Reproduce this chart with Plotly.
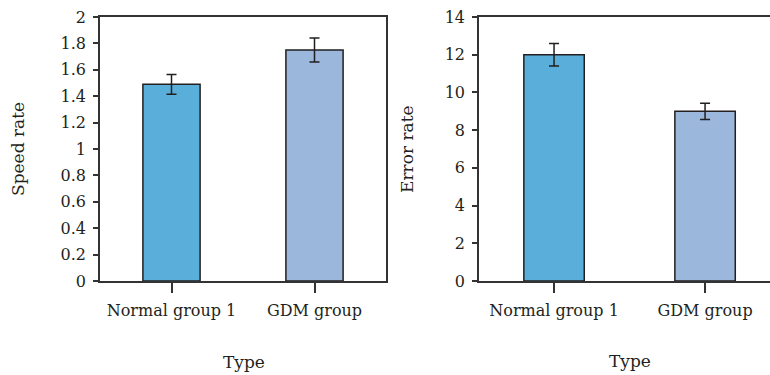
import plotly.graph_objects as go

# Group labels and measured values (mean with symmetric error)
groups = ["Normal group 1", "GDM group"]
speed_rate = [1.49, 1.75]
speed_err = [0.075, 0.09]
error_rate = [12.0, 9.0]
error_err = [0.6, 0.43]
bar_colors = ["#5AAFDA", "#9BB7DC"]

speed_ticks = [0, 0.2, 0.4, 0.6, 0.8, 1, 1.2, 1.4, 1.6, 1.8, 2]
error_ticks = [0, 2, 4, 6, 8, 10, 12, 14]

FONT = "DejaVu Serif"
INK = "#231F20"
W, H = 770, 375


def px_x(p):
    return p / W


def px_y(p):
    return 1 - p / H


fig = go.Figure()

fig.add_trace(go.Bar(
    x=groups, y=speed_rate, width=0.4,
    marker=dict(color=bar_colors, line=dict(color=INK, width=1.5)),
    error_y=dict(type="data", array=speed_err, color=INK, thickness=1.5, width=5),
    xaxis="x", yaxis="y", showlegend=False,
))
fig.add_trace(go.Bar(
    x=groups, y=error_rate, width=0.4,
    marker=dict(color=bar_colors, line=dict(color=INK, width=1.5)),
    error_y=dict(type="data", array=error_err, color=INK, thickness=1.5, width=5),
    xaxis="x2", yaxis="y2", showlegend=False,
))

ydom = [px_y(281), px_y(17)]
tickfont = dict(family=FONT, size=16, color=INK)
axis_common = dict(showline=True, linecolor="#333333", linewidth=1.5,
                   showgrid=False, zeroline=False, tickfont=tickfont,
                   ticks="outside", tickcolor="#333333", tickwidth=1.5,
                   automargin=False)

fig.update_layout(
    width=W, height=H,
    margin=dict(l=0, r=0, t=0, b=0, autoexpand=False),
    paper_bgcolor="white", plot_bgcolor="white",
    font=dict(family=FONT, color=INK),
    xaxis=dict(domain=[px_x(100), px_x(386)], type="category",
               range=[-0.5, 1.5], mirror=True, ticklen=10, anchor="y",
               ticklabelstandoff=4, **axis_common),
    yaxis=dict(domain=ydom, range=[0, 2], tickvals=speed_ticks,
               ticktext=[f"{v:g}" for v in speed_ticks], mirror=True,
               ticklen=5, anchor="x", ticklabelstandoff=4, **axis_common),
    xaxis2=dict(domain=[px_x(479), 1.0], type="category",
                range=[-0.497, 1.43], mirror=True, ticklen=10, anchor="y2",
                ticklabelstandoff=4, **axis_common),
    yaxis2=dict(domain=ydom, range=[0, 14], tickvals=error_ticks,
                ticktext=[str(v) for v in error_ticks], mirror=False,
                ticklen=5, anchor="x2", ticklabelstandoff=4, **axis_common),
)

title_font = dict(family=FONT, size=17, color=INK)
annotations = [
    dict(text="Speed rate", x=px_x(18), y=px_y(149), textangle=-90),
    dict(text="Type", x=px_x(244), y=px_y(362)),
    dict(text="Error rate", x=px_x(407), y=px_y(149), textangle=-90),
    dict(text="Type", x=px_x(630), y=px_y(361)),
]
for a in annotations:
    fig.add_annotation(xref="paper", yref="paper", showarrow=False,
                       xanchor="center", yanchor="middle", font=title_font, **a)

fig.write_html("out.html")
